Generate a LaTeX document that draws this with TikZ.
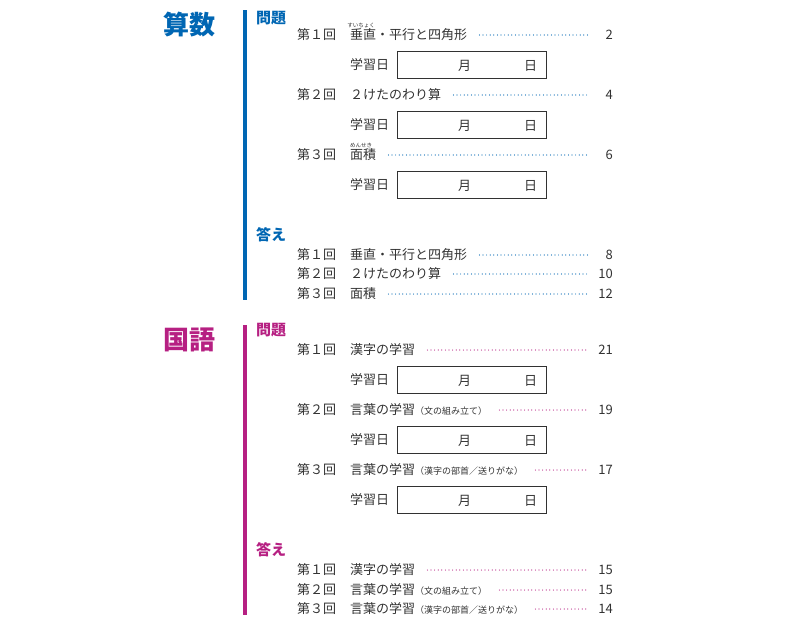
\documentclass[tikz,border=0pt]{standalone}
\usepackage{fontspec}
\setmainfont{Noto Sans CJK JP}
\usetikzlibrary{positioning}
\definecolor{sansu}{RGB}{0,102,179}
\definecolor{kokugo}{RGB}{182,32,130}
\definecolor{ink}{RGB}{50,50,50}

% one line of the contents: name, y, label, title, page, colour
\newcommand{\gyou}[6]{%
  \node[item] (#1k) at (297,#2) {#3};
  \node[item] (#1t) at (350,#2) {#4};
  \coordinate (#1e) at (588,#2);
  \draw[leader=#6] ([xshift=12pt]#1t.east) -- (#1e);
  \node[item, anchor=east] (#1p) at (613,#2) {#5};
}
% study-date box
\newcommand{\hizuke}[2]{%
  \node[item] (#1l) at (350,#2) {学習日};
  \node[datebox] (#1b) at (397,#2) {};
  \node[item] (#1m) at (458,#2+1) {月};
  \node[item] (#1d) at (524,#2+1) {日};
}

\begin{document}
\begin{tikzpicture}[x=1pt,y=-1pt,
  item/.style={anchor=west, inner sep=0pt, text=ink, font=\fontsize{13}{13}\selectfont},
  small/.style={font=\fontsize{7}{7}\selectfont},
  ruby/.style={inner sep=0pt, text=ink, font=\fontsize{5.5}{5.5}\selectfont},
  title/.style={anchor=west, inner sep=0pt, font=\fontsize{26}{26}\selectfont\bfseries},
  head/.style={anchor=west, inner sep=0pt, font=\fontsize{15}{15}\selectfont\bfseries},
  leader/.style={draw=#1, line width=1.2pt, line cap=round, dash pattern=on 0pt off 3.6pt},
  datebox/.style={draw=ink, line width=0.8pt, anchor=west, minimum width=149pt, minimum height=27pt, inner sep=0pt},
  bar/.style={line width=4.5pt}]
  \useasboundingbox (0,0) rectangle (787,627);

  % 算数
  \node[title, text=sansu] (sansu) at (163,25) {算数};
  \coordinate (sb1) at (245,10);
  \coordinate (sb2) at (245,300);
  \draw[bar, sansu] (sb1) -- (sb2);
  \node[head, text=sansu] (smon) at (256,18) {問題};
  \gyou{s1}{35}{第１回}{垂直・平行と四角形}{2}{sansu}
  \node[ruby] (r1) at (361,25) {すいちょく};
  \hizuke{sd1}{65}
  \gyou{s2}{95}{第２回}{２けたのわり算}{4}{sansu}
  \hizuke{sd2}{125}
  \gyou{s3}{155}{第３回}{面積}{6}{sansu}
  \node[ruby] (r3) at (361,145) {めんせき};
  \hizuke{sd3}{185}
  \node[head, text=sansu] (skot) at (256,235) {答え};
  \gyou{sa1}{255}{第１回}{垂直・平行と四角形}{8}{sansu}
  \gyou{sa2}{274}{第２回}{２けたのわり算}{10}{sansu}
  \gyou{sa3}{294}{第３回}{面積}{12}{sansu}

  % 国語
  \node[title, text=kokugo] (koku) at (163,340) {国語};
  \coordinate (kb1) at (245,325);
  \coordinate (kb2) at (245,615);
  \draw[bar, kokugo] (kb1) -- (kb2);
  \node[head, text=kokugo] (kmon) at (256,330) {問題};
  \gyou{k1}{350}{第１回}{漢字の学習}{21}{kokugo}
  \hizuke{kd1}{380}
  \gyou{k2}{410}{第２回}{言葉の学習{\small（文の組み立て）}}{19}{kokugo}
  \hizuke{kd2}{440}
  \gyou{k3}{470}{第３回}{言葉の学習{\small（漢字の部首／送りがな）}}{17}{kokugo}
  \hizuke{kd3}{500}
  \node[head, text=kokugo] (kkot) at (256,550) {答え};
  \gyou{ka1}{570}{第１回}{漢字の学習}{15}{kokugo}
  \gyou{ka2}{590}{第２回}{言葉の学習{\small（文の組み立て）}}{15}{kokugo}
  \gyou{ka3}{609}{第３回}{言葉の学習{\small（漢字の部首／送りがな）}}{14}{kokugo}
\end{tikzpicture}
\end{document}
